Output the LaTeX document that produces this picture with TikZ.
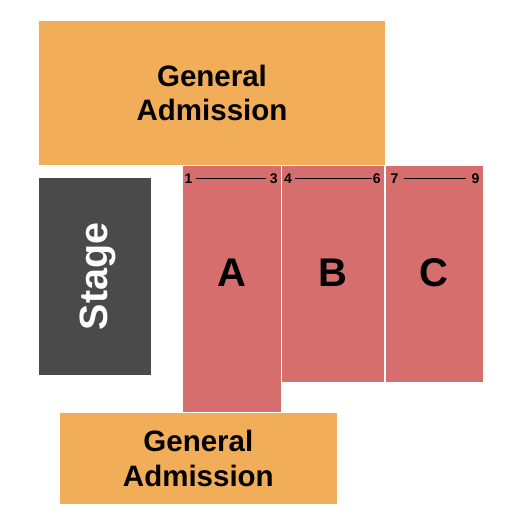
\documentclass[tikz,border=0pt]{standalone}
\usepackage{fontspec}
\setmainfont{Liberation Sans}
\usepackage{tikz}
\usetikzlibrary{positioning}
\definecolor{gaorange}{RGB}{242,173,89}
\definecolor{secred}{RGB}{214,110,110}
\definecolor{stagegray}{RGB}{74,74,74}
\tikzset{
  galabel/.style={black,align=center,font=\fontsize{29.5}{34.5}\selectfont\bfseries},
  seclabel/.style={black,inner sep=0pt,font=\fontsize{40}{40}\selectfont\bfseries},
  rownum/.style={black,inner sep=0pt,font=\fontsize{14}{14}\selectfont\bfseries},
  rowline/.style={black,line width=0.8pt}
}

\begin{document}
\begin{tikzpicture}[x=1pt,y=-1pt]
  \useasboundingbox (0,0) rectangle (525,525);

  % general admission areas
  \fill[color=gaorange] (39,21) rectangle (385,164.7)
  node[galabel,pos=.5] (gatop) {General\\Admission};
  \fill[color=gaorange] (60,413) rectangle (336.7,503.7)
  node[galabel,pos=.5] (gabottom) {General\\Admission};

  % stage
  \fill[color=stagegray] (39,178.3) rectangle (150.7,374.7);
  \node[white,rotate=90,font=\fontsize{39.5}{39.5}\selectfont\bfseries]
  (stage) at (98,276.5) {Stage};

  % sections
  \fill[color=secred] (183.3,165.7) rectangle (281,411.7);
  \fill[color=secred] (282,165.7) rectangle (384.3,381.7);
  \fill[color=secred] (386,165.7) rectangle (482.7,381.7);

  \node[seclabel] (secA) at (232,273) {A};
  \node[seclabel] (secB) at (333,273) {B};
  \node[seclabel] (secC) at (434.3,273) {C};

  % seat numbers
  \node[rownum] (r1) at (188.5,178.3) {1};
  \node[rownum] (r3) at (273.7,178.3) {3};
  \node[rownum] (r4) at (288,178.3) {4};
  \node[rownum] (r6) at (376.8,178.3) {6};
  \node[rownum] (r7) at (394.5,178.3) {7};
  \node[rownum] (r9) at (475.5,178.3) {9};

  \draw[rowline] ([xshift=3pt]r1.east) -- ([xshift=-4pt]r3.west);
  \draw[rowline] ([xshift=3pt]r4.east) -- ([xshift=-1pt]r6.west);
  \draw[rowline] ([xshift=5pt]r7.east) -- ([xshift=-5pt]r9.west);
\end{tikzpicture}
\end{document}
